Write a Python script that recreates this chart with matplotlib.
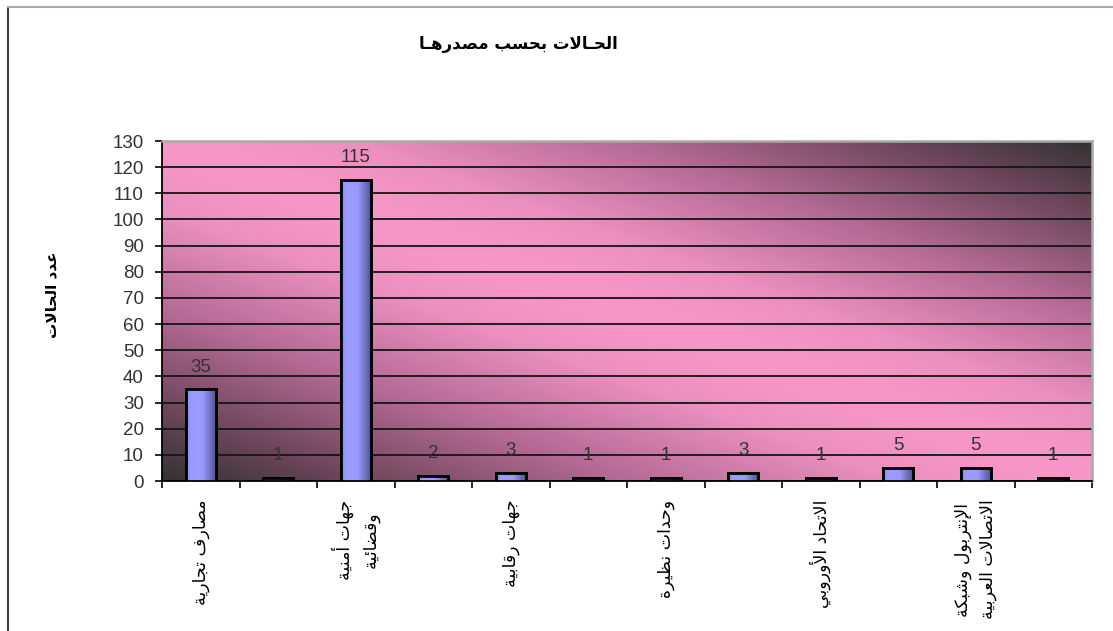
import numpy as np
import matplotlib
matplotlib.use('Agg')
import matplotlib.pyplot as plt
from matplotlib.colors import LinearSegmentedColormap
from matplotlib.lines import Line2D
from matplotlib.transforms import blended_transform_factory

# ======= Dados =======
title = 'الحـالات بحسب مصدرهـا'
ylabel = 'عدد الحالات'
categories = ['مصارف تجارية', '', 'جهات أمنية\nوقضائية', '', 'جهات رقابية', '',
              'وحدات نظيرة', '', 'الاتحاد الأوروبي', '',
              'الإنتربول وشبكة\nالاتصالات العربية', '']
values = [35, 1, 115, 2, 3, 1, 1, 3, 1, 5, 5, 1]
yticks = list(range(0, 131, 10))

# ======= Formas contextuais do árabe (matplotlib não faz shaping) =======
FORMS = {
    'ء': (0xFE80, 1), 'آ': (0xFE81, 2), 'أ': (0xFE83, 2), 'ؤ': (0xFE85, 2),
    'إ': (0xFE87, 2), 'ئ': (0xFE89, 4), 'ا': (0xFE8D, 2), 'ب': (0xFE8F, 4),
    'ة': (0xFE93, 2), 'ت': (0xFE95, 4), 'ث': (0xFE99, 4), 'ج': (0xFE9D, 4),
    'ح': (0xFEA1, 4), 'خ': (0xFEA5, 4), 'د': (0xFEA9, 2), 'ذ': (0xFEAB, 2),
    'ر': (0xFEAD, 2), 'ز': (0xFEAF, 2), 'س': (0xFEB1, 4), 'ش': (0xFEB5, 4),
    'ص': (0xFEB9, 4), 'ض': (0xFEBD, 4), 'ط': (0xFEC1, 4), 'ظ': (0xFEC5, 4),
    'ع': (0xFEC9, 4), 'غ': (0xFECD, 4), 'ف': (0xFED1, 4), 'ق': (0xFED5, 4),
    'ك': (0xFED9, 4), 'ل': (0xFEDD, 4), 'م': (0xFEE1, 4), 'ن': (0xFEE5, 4),
    'ه': (0xFEE9, 4), 'و': (0xFEED, 2), 'ى': (0xFEEF, 2), 'ي': (0xFEF1, 4),
}
LAM_ALEF = {'آ': 0xFEF5, 'أ': 0xFEF7, 'إ': 0xFEF9, 'ا': 0xFEFB}
TATWEEL = 'ـ'


def shape(line):
    units = []
    i = 0
    while i < len(line):
        c = line[i]
        if c == 'ل' and i + 1 < len(line) and line[i + 1] in LAM_ALEF:
            units.append(('LA', LAM_ALEF[line[i + 1]]))
            i += 2
        else:
            units.append((c, None))
            i += 1

    def joins_next(u):
        c = u[0]
        return c == TATWEEL or (c in FORMS and FORMS[c][1] == 4)

    def is_letter(u):
        c = u[0]
        return c == 'LA' or c == TATWEEL or (c in FORMS and FORMS[c][1] > 1)

    out = []
    for k, u in enumerate(units):
        c, lig = u
        prev = k > 0 and joins_next(units[k - 1]) and is_letter(u)
        nxt = k + 1 < len(units) and joins_next(u) and is_letter(units[k + 1])
        if c == 'LA':
            out.append(chr(lig + (1 if prev else 0)))
        elif c in FORMS:
            base, n = FORMS[c]
            if n == 1:
                out.append(chr(base))
            elif n == 2:
                out.append(chr(base + (1 if prev else 0)))
            else:
                idx = {(False, False): 0, (True, False): 1,
                       (False, True): 2, (True, True): 3}[(prev, nxt)]
                out.append(chr(base + idx))
        else:
            out.append(c)
    return ''.join(reversed(out))


def ar(text):
    return '\n'.join(shape(l) for l in text.split('\n'))


# ======= Gráfico =======
plt.rcParams['font.family'] = ['Liberation Sans', 'DejaVu Sans']

fig = plt.figure(figsize=(11.13, 6.31), dpi=100)
ax = fig.add_axes([162 / 1113, 1 - 481 / 631, 930 / 1113, 340 / 631])

x = np.arange(len(values))

# fundo em degradê diagonal
bg_cmap = LinearSegmentedColormap.from_list(
    'bg', [(0, '#F898C8'), (0.2, '#EC90C0'), (0.5, '#B46A94'), (0.8, '#6A4558'), (1, '#333333')])
gx, gy = np.meshgrid(np.linspace(0, 1, 400), np.linspace(0, 1, 200))
t = np.clip(np.abs(gx + gy - 1), 0, 1)
ax.imshow(t, cmap=bg_cmap, vmin=0, vmax=1, origin='lower', extent=(0, 1, 0, 1),
          transform=ax.transAxes, aspect='auto', zorder=0, interpolation='bilinear')

# barras com sombreamento horizontal
bar_cmap = LinearSegmentedColormap.from_list(
    'bar', [(0, '#8686DC'), (0.15, '#9C9CFF'), (0.55, '#9999FF'), (1, '#4E4E8C')])
width = 0.39
grad = np.linspace(0, 1, 64).reshape(1, -1)
bars = ax.bar(x, values, width=width, color='#9999FF', edgecolor='black', linewidth=2, zorder=3)
for b in bars:
    im = ax.imshow(grad, cmap=bar_cmap, aspect='auto', zorder=3.5,
                   extent=(b.get_x(), b.get_x() + b.get_width(), 0, b.get_height()))
    im.set_clip_path(b)
ax.bar(x, values, width=width, fill=False, edgecolor='black', linewidth=2, zorder=4)
ax.set_xlim(-0.5, len(values) - 0.5)
ax.set_ylim(0, 130)

for xi, v in zip(x, values):
    ax.annotate(str(v), (xi, v), xytext=(0, 10), textcoords='offset points',
                ha='center', va='bottom', fontsize=13.5, color='#333333', zorder=5)

# grade e eixos
ax.set_yticks(yticks)
ax.yaxis.grid(True, color='#151515', linewidth=1.3)
ax.set_axisbelow(True)
ax.set_xticks(np.arange(-0.5, len(values), 1))
ax.set_xticklabels([])
ax.tick_params(axis='both', direction='out', length=5, width=1.2, color='black')
ax.tick_params(axis='y', labelsize=13.5, labelcolor='#333333', pad=8)
for s in ['left', 'bottom']:
    ax.spines[s].set_color('black')
    ax.spines[s].set_linewidth(1.3)
for s in ['top', 'right']:
    ax.spines[s].set_color('#a8a8a8')
    ax.spines[s].set_linewidth(1.8)

trans = blended_transform_factory(ax.transData, ax.transAxes)
for xi, lab in zip(x, categories):
    if lab:
        ax.text(xi, -0.055, ar(lab), transform=trans, rotation=90, ha='center', va='top',
                multialignment='center', linespacing=1.5, fontsize=12.5,
                family='DejaVu Sans', color='black')

fig.text(518 / 1113, 1 - 44 / 631, ar(title), ha='center', va='center',
         fontsize=12, fontweight='bold', family='DejaVu Sans')
fig.text(52 / 1113, 1 - 295 / 631, ar(ylabel), ha='center', va='center', rotation=90,
         fontsize=11, fontweight='bold', family='DejaVu Sans')

# moldura da área do gráfico
fig.add_artist(Line2D([8 / 1113, 8 / 1113], [0, 1 - 7 / 631], color='#404040', linewidth=1.5))
fig.add_artist(Line2D([8 / 1113, 1], [1 - 7 / 631, 1 - 7 / 631], color='#a8a8a8', linewidth=1.5))

fig.savefig('out.png', dpi=100)
